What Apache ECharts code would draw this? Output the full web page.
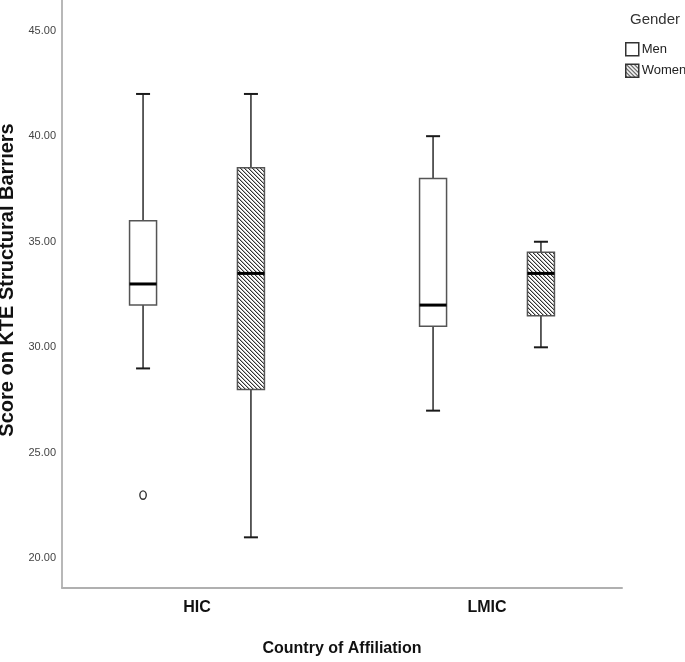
<!DOCTYPE html>
<html>
<head>
<meta charset="utf-8">
<script src="https://cdn.jsdelivr.net/npm/echarts@6/dist/echarts.min.js"></script>
<style>
html,body{margin:0;padding:0;background:#fff;}
#chart{width:685px;height:662px;}
</style>
</head>
<body>
<div id="chart"></div>
<script>
// ---- data ----
const categories = ['HIC', 'LMIC'];
const genders = ['Men', 'Women'];
// [min whisker, Q1, median, Q3, max whisker]
const menStats = [[29, 32, 33, 36, 42], [27, 31, 32, 38, 40]];
const womenStats = [[21, 28, 33.5, 38.5, 42], [30, 31.5, 33.5, 34.5, 35]];
// [category index, value]
const menOutliers = [[0, 23]];
const yTickValues = [20, 25, 30, 35, 40, 45];

// ---- styling / layout ----
const FONT = 'Liberation Sans, Arial, sans-serif';
const groupOffset = 0.186;  // in x-axis units
const boxHalf = 13.5;
const capHalf = 7;

// hatch pattern (diagonal "\" lines)
const pc = document.createElement('canvas');
pc.width = 4; pc.height = 4;
const pctx = pc.getContext('2d');
pctx.fillStyle = '#ffffff';
pctx.fillRect(0, 0, 4, 4);
for (let i = 0; i < 4; i++) {
  pctx.fillStyle = '#333333';
  pctx.fillRect(i, i, 1, 1);
  pctx.fillStyle = '#b4b4b4';
  pctx.fillRect((i + 1) % 4, i, 1, 1);
}
const hatch = { image: pc, repeat: 'repeat' };

function boxData(stats) {
  return stats.map((s, i) => [i].concat(s));
}

function makeRender(offset, fill) {
  return function (params, api) {
    const xv = api.value(0) + offset;
    const lo = api.coord([xv, api.value(1)]);
    const q1 = api.coord([xv, api.value(2)]);
    const md = api.coord([xv, api.value(3)]);
    const q3 = api.coord([xv, api.value(4)]);
    const hi = api.coord([xv, api.value(5)]);
    const x = lo[0];
    const wStyle = { stroke: '#2b2b2b', lineWidth: 1.5 };
    const cStyle = { stroke: '#1a1a1a', lineWidth: 2 };
    return {
      type: 'group',
      children: [
        { type: 'line', shape: { x1: x, y1: q3[1], x2: x, y2: hi[1] }, style: wStyle },
        { type: 'line', shape: { x1: x, y1: q1[1], x2: x, y2: lo[1] }, style: wStyle },
        { type: 'line', shape: { x1: x - capHalf, y1: hi[1], x2: x + capHalf, y2: hi[1] }, style: cStyle },
        { type: 'line', shape: { x1: x - capHalf, y1: lo[1], x2: x + capHalf, y2: lo[1] }, style: cStyle },
        { type: 'rect', shape: { x: x - boxHalf, y: q3[1], width: boxHalf * 2, height: q1[1] - q3[1] },
          style: { fill: fill, stroke: '#555', lineWidth: 1.5 } },
        { type: 'line', shape: { x1: x - boxHalf, y1: md[1], x2: x + boxHalf, y2: md[1] },
          style: { stroke: '#000', lineWidth: 3 } }
      ]
    };
  };
}

function renderOutlier(offset) {
  return function (params, api) {
    const p = api.coord([api.value(0) + offset, api.value(1)]);
    return { type: 'ellipse', shape: { cx: p[0], cy: p[1], rx: 3.2, ry: 4.2 },
      style: { fill: 'none', stroke: '#333', lineWidth: 1.4 } };
  };
}

const chart = echarts.init(document.getElementById('chart'), null, { renderer: 'canvas' });
chart.setOption({
  animation: false,
  backgroundColor: '#fff',
  textStyle: { fontFamily: FONT },
  title: {
    text: 'Gender', left: 630, top: 12, padding: 0,
    textStyle: { fontFamily: FONT, fontSize: 15, fontWeight: 'normal', color: '#333' }
  },
  legend: {
    orient: 'vertical', left: 625, top: 42, padding: 0,
    itemWidth: 13, itemHeight: 13, itemGap: 7,
    icon: 'rect',
    textStyle: { fontFamily: FONT, fontSize: 13, color: '#222', padding: [0, 0, 0, -2] },
    data: [
      { name: genders[0], itemStyle: { color: '#fff', borderColor: '#333', borderWidth: 1.5 } },
      { name: genders[1], itemStyle: { color: hatch, borderColor: '#333', borderWidth: 1.5 } }
    ]
  },
  grid: { left: 62, right: 63, top: 0, bottom: 74, containLabel: false, outerBoundsMode: 'none' },
  xAxis: {
    type: 'value', min: -0.4655, max: 1.4655,
    axisLine: { show: true, onZero: false, lineStyle: { color: '#b0b0b0', width: 2 } },
    axisTick: { show: false },
    splitLine: { show: false },
    axisLabel: {
      customValues: [0, 1],
      formatter: v => categories[Math.round(v)],
      fontFamily: FONT, fontSize: 16, fontWeight: 'bold', color: '#111', margin: 12
    },
    name: 'Country of Affiliation', nameLocation: 'middle', nameGap: 53,
    nameTextStyle: { fontFamily: FONT, fontSize: 16, fontWeight: 'bold', color: '#111' }
  },
  yAxis: {
    type: 'value', min: 18.6, max: 46.45,
    axisLine: { show: true, onZero: false, lineStyle: { color: '#a0a0a0', width: 1.5 } },
    axisTick: { show: false },
    splitLine: { show: false },
    axisLabel: {
      customValues: yTickValues,
      formatter: v => v.toFixed(2),
      fontFamily: FONT, fontSize: 11, color: '#444', margin: 6
    },
    name: 'Score on KTE Structural Barriers', nameLocation: 'middle', nameGap: 45, nameRotate: 90,
    nameTextStyle: { fontFamily: FONT, fontSize: 20, fontWeight: 'bold', color: '#111', padding: [0, 0, 0, 28] }
  },
  series: [
    {
      name: genders[0], type: 'custom',
      itemStyle: { color: '#fff', borderColor: '#333', borderWidth: 1.5 },
      renderItem: makeRender(-groupOffset, '#fff'),
      encode: { x: 0, y: [1, 2, 3, 4, 5] },
      data: boxData(menStats)
    },
    {
      name: genders[1], type: 'custom',
      itemStyle: { color: hatch, borderColor: '#333', borderWidth: 1.5 },
      renderItem: makeRender(groupOffset, hatch),
      encode: { x: 0, y: [1, 2, 3, 4, 5] },
      data: boxData(womenStats)
    },
    {
      name: 'Men outliers', type: 'custom',
      renderItem: renderOutlier(-groupOffset),
      encode: { x: 0, y: 1 },
      data: menOutliers
    }
  ]
});
</script>
</body>
</html>
